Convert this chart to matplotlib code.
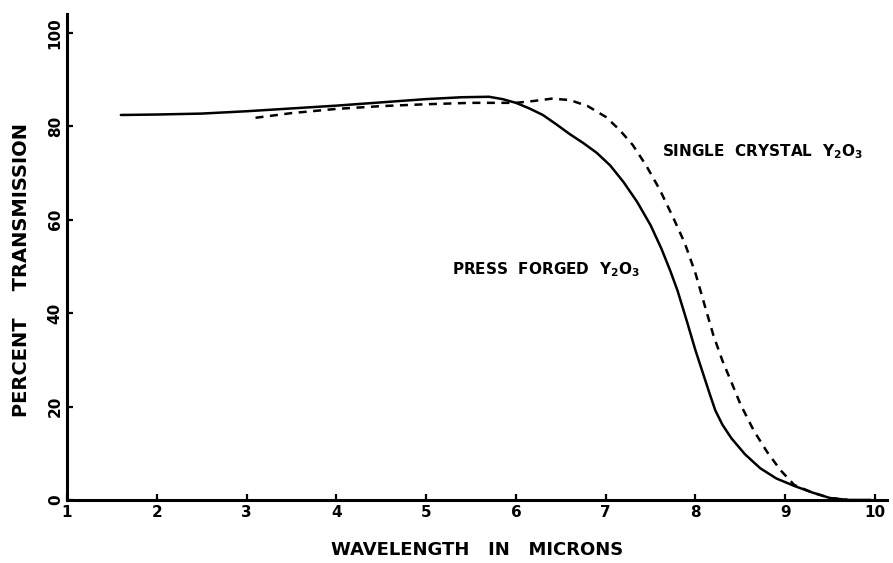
import matplotlib
matplotlib.use("Agg")
import matplotlib.pyplot as plt

plt.rcParams['font.family'] = ['DejaVu Sans']
plt.rcParams['mathtext.fontset'] = 'custom'
plt.rcParams['mathtext.bf'] = 'DejaVu Sans:bold'
plt.rcParams['mathtext.rm'] = 'DejaVu Sans:bold'

# Press forged Y2O3 transmission curve (wavelength in microns, percent)
forged_wl = [1.6, 2.0, 2.5, 3.0, 3.5, 4.0, 4.5, 5.0, 5.4, 5.7, 5.85, 6.0,
             6.15, 6.3, 6.45, 6.6, 6.75, 6.9, 7.05, 7.2, 7.35, 7.5, 7.62,
             7.72, 7.8, 7.9, 8.0, 8.08, 8.16, 8.22, 8.3, 8.4, 8.55, 8.72,
             8.9, 9.1, 9.3, 9.5, 9.7, 9.95]
forged_t = [82.4, 82.5, 82.7, 83.2, 83.8, 84.4, 85.1, 85.8, 86.2, 86.3, 85.8,
            85.0, 83.8, 82.4, 80.4, 78.3, 76.4, 74.3, 71.6, 68.0, 63.8, 58.8,
            53.8, 49.0, 44.8, 38.5, 32.0, 27.3, 22.6, 19.2, 16.1, 13.2, 9.8,
            6.8, 4.6, 3.0, 1.6, 0.4, 0.0, 0.0]

# Single crystal Y2O3 transmission curve
crystal_wl = [3.1, 3.5, 4.0, 4.5, 5.0, 5.5, 6.0, 6.2, 6.4, 6.6, 6.8, 7.0,
              7.15, 7.3, 7.45, 7.6, 7.75, 7.88, 8.0, 8.1, 8.2, 8.3, 8.4,
              8.5, 8.65, 8.8, 8.95, 9.1, 9.3, 9.5, 9.7]
crystal_t = [81.8, 82.8, 83.7, 84.3, 84.7, 85.0, 85.0, 85.4, 85.9, 85.6,
             84.3, 82.0, 79.3, 76.0, 71.6, 66.5, 60.5, 55.0, 48.5, 41.8,
             35.2, 29.8, 25.2, 20.5, 14.8, 10.2, 6.3, 3.2, 1.6, 0.4, 0.0]

x_ticks = [1, 2, 3, 4, 5, 6, 7, 8, 9, 10]
y_ticks = [0, 20, 40, 60, 80, 100]

fig = plt.figure(figsize=(8.93, 5.63), dpi=100)
ax = fig.add_axes([0.075, 0.112, 0.918, 0.863])

ax.plot(forged_wl, forged_t, color='black', lw=1.8, solid_capstyle='round',
        solid_joinstyle='round')
ax.plot(crystal_wl, crystal_t, color='black', lw=1.8, dashes=(3.2, 2.6))

ax.set_xlim(1, 10.13)
ax.set_ylim(0, 104)
for side in ('top', 'right'):
    ax.spines[side].set_visible(False)
for side in ('left', 'bottom'):
    ax.spines[side].set_linewidth(2.2)

ax.set_xticks(x_ticks)
ax.set_xticklabels([str(v) for v in x_ticks], fontweight='bold', fontsize=11)
ax.set_yticks(y_ticks)
ax.set_yticklabels([str(v) for v in y_ticks], fontweight='bold', fontsize=11,
                   rotation=90, va='center')
ax.tick_params(direction='in', length=4, width=1.6, pad=4)
ax.tick_params(axis='y', pad=3)

ax.set_xlabel('WAVELENGTH   IN   MICRONS', fontweight='bold', fontsize=13,
              labelpad=15)
ax.set_ylabel('PERCENT    TRANSMISSION', fontweight='bold', fontsize=14)
ax.yaxis.set_label_coords(-0.044, 0.473)

ax.text(7.63, 74.5, r'SINGLE  CRYSTAL  Y$_\mathbf{2}$O$_\mathbf{3}$',
        fontweight='bold', fontsize=11, va='center', ha='left')
ax.text(5.29, 49.3, r'PRESS  FORGED  Y$_\mathbf{2}$O$_\mathbf{3}$',
        fontweight='bold', fontsize=11, va='center', ha='left')

fig.savefig('out.png', dpi=100)
